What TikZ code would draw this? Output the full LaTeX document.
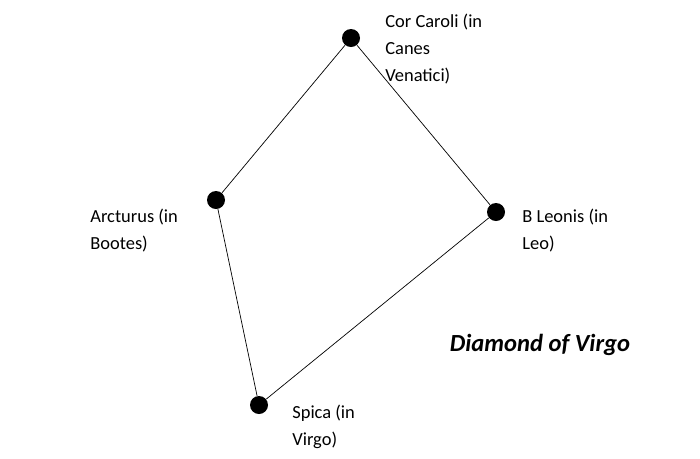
\documentclass[tikz,border=0pt]{standalone}
\usepackage{fontspec}
\setmainfont{Carlito}
\begin{document}
\begin{tikzpicture}[x=0.02cm,y=-0.02cm]
\tikzset{star/.style={circle,fill=black,minimum size=18*0.02cm,inner sep=0pt},
  lab/.style={anchor=north west,align=left,font=\fontsize{10.5pt}{15.3pt}\selectfont,inner sep=0pt}}
\useasboundingbox (0,0) rectangle (700,458);
\node[star] (cor) at (351,38) {};
\node[star] (arc) at (216,200) {};
\node[star] (leo) at (496,212) {};
\node[star] (spi) at (259,405) {};
\draw (cor) -- (arc) -- (spi) -- (leo) -- (cor);
\node[lab] (corl) at (385,14) {Cor Caroli (in\\Canes\\Venatici)};
\node[lab] (arcl) at (90,209) {Arcturus (in\\Bootes)};
\node[lab] (leol) at (522,209) {B Leonis (in\\Leo)};
\node[lab] (spil) at (292,405) {Spica (in\\Virgo)};
\node[font=\fontsize{14pt}{16pt}\selectfont\bfseries\itshape] (title) at (540,345) {Diamond of Virgo};
\end{tikzpicture}
\end{document}
